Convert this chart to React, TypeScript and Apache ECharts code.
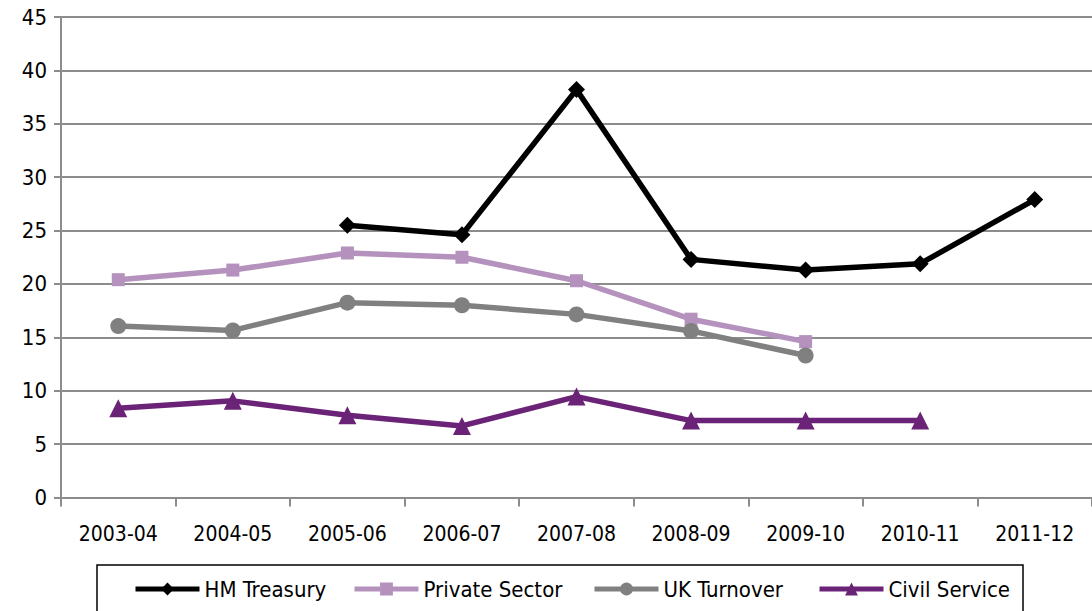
import React, { useEffect, useRef } from "react";
import * as echarts from "echarts";

const categories = ["2003-04", "2004-05", "2005-06", "2006-07", "2007-08", "2008-09", "2009-10", "2010-11", "2011-12"];
const hmTreasury = [null, null, 25.5, 24.6, 38.2, 22.3, 21.3, 21.9, 27.9];
const privateSector = [20.4, 21.3, 22.9, 22.5, 20.3, 16.7, 14.6, null, null];
const ukTurnover = [16.05, 15.65, 18.25, 18.0, 17.15, 15.6, 13.3, null, null];
const civilService = [8.35, 9.05, 7.7, 6.7, 9.45, 7.2, 7.2, 7.2, null];
const yTicks = { min: 0, max: 45, interval: 5 };

const FONT = "'Liberation Sans Narrow', 'DejaVu Sans Condensed', 'Noto Sans', sans-serif";

export default function App() {
  const ref = useRef<HTMLDivElement>(null);
  useEffect(() => {
    if (!ref.current) return;
    const chart = echarts.init(ref.current, undefined, { renderer: "svg" });
    const mk = (name: string, data: (number | null)[], color: string, symbol: string, size: number) => ({
      name,
      type: "line",
      data,
      symbol,
      symbolSize: size,
      showSymbol: true,
      connectNulls: false,
      lineStyle: { color, width: 5.5 },
      itemStyle: { color },
      emphasis: { disabled: true },
    });
    const legendItem = (name: string, left: number) => ({
      left,
      top: 578,
      padding: 0,
      data: [name],
      itemWidth: 64,
      itemHeight: 16,
      itemGap: 0,
      lineStyle: { width: 5 },
      textStyle: { fontFamily: FONT, fontSize: 22, color: "#000" },
      selectedMode: false,
    });
    chart.setOption({
      animation: false,
      backgroundColor: "#fff",
      grid: { left: 61, top: 17, width: 1035, height: 480.5, containLabel: false },
      legend: [
        legendItem("HM Treasury", 133),
        legendItem("Private Sector", 352),
        legendItem("UK Turnover", 592),
        legendItem("Civil Service", 817),
      ],
      graphic: [
        {
          type: "rect",
          shape: { x: 97, y: 565, width: 926, height: 70 },
          style: { fill: "none", stroke: "#000", lineWidth: 1.5 },
          silent: true,
          z: -1,
        },
      ],
      xAxis: {
        type: "category",
        data: categories,
        boundaryGap: true,
        axisLine: { lineStyle: { color: "#8c8c8c", width: 2 } },
        axisTick: { show: true, length: 9, interval: 0, lineStyle: { color: "#8c8c8c", width: 2 } },
        axisLabel: { fontFamily: FONT, fontSize: 21, color: "#000", margin: 26, interval: 0 },
      },
      yAxis: {
        type: "value",
        min: yTicks.min,
        max: yTicks.max,
        interval: yTicks.interval,
        axisLine: { show: true, lineStyle: { color: "#8c8c8c", width: 2 } },
        axisTick: { show: true, length: 7, lineStyle: { color: "#8c8c8c", width: 2 } },
        axisLabel: { fontFamily: FONT, fontSize: 22, color: "#000", margin: 14 },
        splitLine: { lineStyle: { color: "#8c8c8c", width: 2 } },
      },
      series: [
        mk("HM Treasury", hmTreasury, "#000000", "diamond", 17),
        mk("Private Sector", privateSector, "#b592bd", "rect", 13),
        mk("UK Turnover", ukTurnover, "#808080", "circle", 16),
        mk("Civil Service", civilService, "#6b2377", "triangle", 18),
      ],
    });
    return () => chart.dispose();
  }, []);
  return (
    <div
      ref={ref}
      style={{ position: "fixed", left: 0, top: 0, width: 1092, height: 611, background: "#fff" }}
    />
  );
}
